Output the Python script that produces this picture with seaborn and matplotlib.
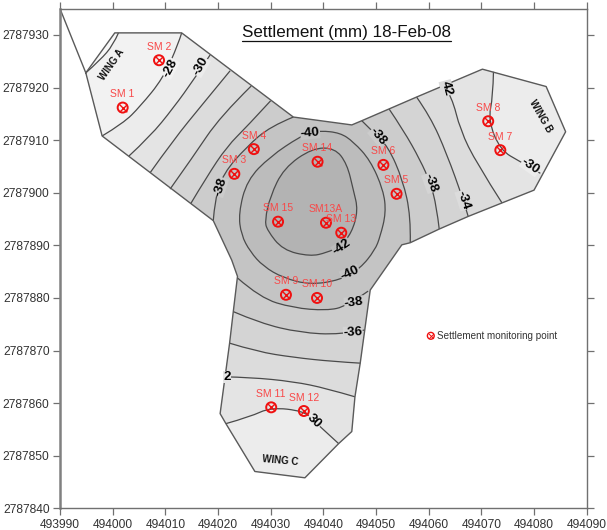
import matplotlib
matplotlib.use("Agg")
import matplotlib.pyplot as plt
import matplotlib.ticker as mticker
from matplotlib.lines import Line2D
from matplotlib.patches import PathPatch
from matplotlib.path import Path
import seaborn as sns

outline_x = [493994.9, 494000.4, 494013.1, 494034.3, 494045.4, 494047.3, 494057.7, 494070.2, 494082.3, 494086.0,
             494080.0, 494067.5, 494062.0, 494056.5, 494054.9, 494048.9, 494047.0, 494046.0, 494045.4, 494042.9,
             494036.5, 494027.0, 494021.5, 494020.4, 494022.2, 494022.9, 494023.7, 494022.6, 494019.1, 493998.0]
outline_y = [2787922.8, 2787930.4, 2787930.4, 2787914.4, 2787912.9, 2787913.7, 2787918.2, 2787923.5, 2787920.2, 2787911.6,
             2787900.5, 2787895.5, 2787893.1, 2787890.5, 2787890.1, 2787881.5, 2787867.6, 2787861.2, 2787854.6, 2787852.3,
             2787845.8, 2787847.0, 2787856.1, 2787858.0, 2787871.4, 2787877.4, 2787884.1, 2787887.2, 2787894.7, 2787910.8]
spike_x = [493990.0, 493994.9]
spike_y = [2787935.0, 2787922.8]

# wing A, lower left edge to upper right edge
a26_x = [493994.9, 493997.6, 494000.1, 494001.1]
a26_y = [2787922.8, 2787925.2, 2787928.1, 2787930.4]
a28_x = [493998.0, 494002.0, 494005.2, 494009.6, 494012.5, 494013.1]
a28_y = [2787910.8, 2787913.2, 2787916.4, 2787921.8, 2787928.4, 2787930.4]
a30_x = [494003.1, 494007.1, 494011.5, 494015.6, 494018.5]
a30_y = [2787907.0, 2787910.7, 2787916.1, 2787921.8, 2787926.2]
a32_x = [494007.1, 494011.5, 494017.2, 494022.3]
a32_y = [2787903.8, 2787910.0, 2787917.0, 2787923.2]
a34_x = [494010.9, 494015.3, 494020.4, 494026.3]
a34_y = [2787900.7, 2787906.9, 2787914.5, 2787920.3]
a36_x = [494014.8, 494017.9, 494021.7, 494025.5, 494030.0]
a36_y = [2787897.9, 2787903.1, 2787908.8, 2787912.6, 2787917.5]
a38_x = [494019.1, 494019.4, 494021.0, 494025.5, 494029.9, 494034.3]
a38_y = [2787894.7, 2787898.6, 2787903.7, 2787908.8, 2787912.6, 2787914.4]

# wing B, top edge to bottom edge
b30_x = [494072.3, 494072.2, 494071.3, 494073.6, 494077.4, 494081.2]
b30_y = [2787923.0, 2787918.3, 2787913.8, 2787908.1, 2787905.9, 2787903.7]
b32_x = [494062.9, 494064.4, 494066.0, 494069.1, 494073.9]
b32_y = [2787920.4, 2787918.3, 2787911.9, 2787905.6, 2787898.1]
b34_x = [494057.7, 494060.3, 494063.4, 494066.6, 494067.5]
b34_y = [2787918.2, 2787914.5, 2787907.5, 2787898.6, 2787895.5]
b36_x = [494052.5, 494055.2, 494058.4, 494060.3, 494061.5, 494062.0]
b36_y = [2787915.9, 2787911.9, 2787906.2, 2787901.9, 2787897.4, 2787893.1]
b38_x = [494047.3, 494049.4, 494052.3, 494055.1, 494056.6, 494056.5]
b38_y = [2787913.7, 2787911.6, 2787908.8, 2787902.4, 2787895.5, 2787890.5]

# wing C, left edge to right edge
c30_x = [494021.5, 494026.1, 494030.0, 494036.2, 494038.0, 494042.9]
c30_y = [2787856.1, 2787857.4, 2787859.2, 2787858.5, 2787856.8, 2787852.3]
c32_x = [494021.3, 494026.1, 494034.3, 494040.6, 494046.0]
c32_y = [2787865.0, 2787864.9, 2787864.1, 2787862.8, 2787861.2]
c34_x = [494022.2, 494027.4, 494034.3, 494041.9, 494047.0]
c34_y = [2787871.4, 2787869.8, 2787868.7, 2787867.9, 2787867.6]
c36_x = [494022.9, 494028.0, 494035.6, 494043.2, 494047.8]
c36_y = [2787877.4, 2787875.2, 2787873.4, 2787873.0, 2787873.9]
c38_x = [494023.7, 494028.0, 494034.3, 494040.6, 494044.4, 494048.5]
c38_y = [2787883.8, 2787880.0, 2787878.1, 2787877.6, 2787878.4, 2787881.3]

# closed contours round the centre
m40_x = [494037.5, 494039.4, 494043.2, 494045.7, 494048.9, 494051.4, 494051.9, 494050.8, 494049.8, 494047.0,
         494043.2, 494037.5, 494032.4, 494028.6, 494026.1, 494024.4, 494023.9, 494025.5, 494029.9, 494035.6]
m40_y = [2787911.4, 2787911.8, 2787911.4, 2787909.7, 2787906.2, 2787900.5, 2787896.2, 2787891.7, 2787889.1, 2787885.6,
         2787883.4, 2787882.5, 2787883.8, 2787886.0, 2787888.8, 2787892.0, 2787896.1, 2787902.4, 2787906.9, 2787910.7]
m42_x = [494037.9, 494042.2, 494044.5, 494045.7, 494046.6, 494045.4, 494043.2, 494040.6, 494037.5, 494032.3,
         494029.3, 494028.9, 494029.9, 494032.5]
m42_y = [2787908.5, 2787908.5, 2787905.5, 2787900.5, 2787896.7, 2787892.4, 2787889.8, 2787888.6, 2787887.9, 2787889.1,
         2787892.9, 2787894.8, 2787899.3, 2787904.7]

# points past the tip of each wing, used to close the band polygons
far_a_x = [494035.6, 493990.0, 493990.0]
far_a_y = [2787935.0, 2787935.0, 2787891.0]
far_b_x = [494090.6, 494090.6, 494047.2]
far_b_y = [2787879.6, 2787935.0, 2787935.0]
far_c_x = [494073.5, 493997.6]
far_c_y = [2787837.8, 2787837.8]

point_names = ["SM 1", "SM 2", "SM 3", "SM 4", "SM 5", "SM 6", "SM 7", "SM 8",
               "SM 9", "SM 10", "SM 11", "SM 12", "SM 13", "SM13A", "SM 14", "SM 15"]
point_x = [494001.9, 494008.8, 494023.1, 494026.8, 494053.9, 494051.4, 494073.6, 494071.3,
           494032.9, 494038.8, 494030.1, 494036.3, 494043.4, 494040.5, 494038.9, 494031.4]
point_y = [2787916.2, 2787925.2, 2787903.6, 2787908.3, 2787899.8, 2787905.3, 2787908.1, 2787913.6,
           2787880.6, 2787880.0, 2787859.2, 2787858.5, 2787892.4, 2787894.3, 2787905.9, 2787894.5]
legend_x = [494060.4]
legend_y = [2787872.8]

label_texts = ["-28", "-30", "-38", "-40", "-38", "-38", "-34", "42", "-30", "-42", "-40", "-38", "-36", "2", "30"]
label_x = [494010.9, 494016.7, 494020.4, 494037.5, 494050.4, 494060.3, 494066.6, 494063.4, 494079.3, 494043.5,
           494045.1, 494045.8, 494045.6, 494021.7, 494038.2]
label_y = [2787923.7, 2787924.0, 2787901.1, 2787911.4, 2787910.7, 2787901.9, 2787898.6, 2787919.9, 2787905.0, 2787889.7,
           2787884.7, 2787879.1, 2787873.4, 2787865.0, 2787856.5]
label_angle = [62, 60, 72, 5, -50, -70, -72, -75, -35, 35, 25, 8, 3, 0, -45]
label_band = ["-28", "-30", "-38", "base", "-38", "-36", "-34", "-34", "-30", "-40", "base", "-38", "-36", "-32", "-30"]

wing_names = ["WING A", "WING B", "WING C"]
wing_x = [493999.8, 494081.2, 494031.8]
wing_y = [2787924.3, 2787914.5, 2787849.0]
wing_angle = [55, -60, -5]

x_ticks = list(range(493990, 494100, 10))
y_ticks = list(range(2787840, 2787940, 10))

band_colours = {"-26": "#f8f8f8", "-28": "#f2f2f2", "-30": "#ececec", "-32": "#e4e4e4", "-34": "#dcdcdc",
                "-36": "#d4d4d4", "-38": "#cccccc", "base": "#c4c4c4", "-40": "#bcbcbc", "-42": "#b3b3b3"}
line_colour = "#4a4a4a"
red = "#f01010"


def smooth_path(xs, ys, extra_x=(), extra_y=(), closed=False):
    # read points act as quadratic control points, so the line rounds off without any new values
    pts = list(zip(xs, ys))
    mids = [((a[0] + b[0]) / 2, (a[1] + b[1]) / 2) for a, b in zip(pts, pts[1:] + pts[:1])]
    if closed:
        verts = [mids[-1]]
        codes = [Path.MOVETO]
        for pt, mid in zip(pts, mids):
            verts += [pt, mid]
            codes += [Path.CURVE3, Path.CURVE3]
    else:
        verts = [pts[0]]
        codes = [Path.MOVETO]
        for pt, mid in zip(pts[1:-1], mids[1:-1]):
            verts += [pt, mid]
            codes += [Path.CURVE3, Path.CURVE3]
        verts[-1] = pts[-1]
    for pt in zip(extra_x, extra_y):
        verts.append(pt)
        codes.append(Path.LINETO)
    if closed or len(extra_x):
        verts.append(verts[0])
        codes.append(Path.CLOSEPOLY)
    return Path(verts, codes)


def draw_line(ax, xs, ys, width=1.0, colour="#5a5a5a"):
    sns.lineplot(x=xs, y=ys, ax=ax, sort=False, estimator=None, color=colour, linewidth=width, legend=False)


def draw_marks(ax, xs, ys, size, inner, ring=1.4, cross=1.0):
    sns.scatterplot(x=xs, y=ys, ax=ax, marker="o", s=size, facecolor="none", edgecolor=red, linewidth=ring, zorder=5)
    sns.scatterplot(x=xs, y=ys, ax=ax, marker="x", s=inner, color=red, linewidth=cross, zorder=5)


def draw_wing(ax, clip, contours, far_x, far_y):
    # paint from the centre out, each band covers everything further along the wing
    for level, xs, ys in contours:
        band = PathPatch(smooth_path(xs, ys, far_x, far_y), facecolor=band_colours[level], edgecolor="none")
        ax.add_patch(band)
        band.set_clip_path(clip)
    for level, xs, ys in contours:
        ax.add_patch(PathPatch(smooth_path(xs, ys), fill=False, edgecolor=line_colour, linewidth=0.9))


def plot_chart():
    sns.set_theme(style="ticks")
    plt.rcParams["font.family"] = ["Liberation Sans", "DejaVu Sans"]

    fig = plt.figure(figsize=(6.07, 5.30), dpi=100)
    ax = fig.add_axes([60 / 607, 1 - 508.3 / 530, 526.7 / 607, 499.6 / 530])

    base = ax.fill(outline_x, outline_y, color=band_colours["base"], linewidth=0)[0]

    draw_wing(ax, base, [("-38", a38_x, a38_y), ("-36", a36_x, a36_y), ("-34", a34_x, a34_y), ("-32", a32_x, a32_y),
                         ("-30", a30_x, a30_y), ("-28", a28_x, a28_y), ("-26", a26_x, a26_y)], far_a_x, far_a_y)
    draw_wing(ax, base, [("-38", b38_x, b38_y), ("-36", b36_x, b36_y), ("-34", b34_x, b34_y), ("-32", b32_x, b32_y),
                         ("-30", b30_x, b30_y)], far_b_x, far_b_y)
    draw_wing(ax, base, [("-38", c38_x, c38_y), ("-36", c36_x, c36_y), ("-34", c34_x, c34_y), ("-32", c32_x, c32_y),
                         ("-30", c30_x, c30_y)], far_c_x, far_c_y)

    for level, xs, ys in [("-40", m40_x, m40_y), ("-42", m42_x, m42_y)]:
        ax.add_patch(PathPatch(smooth_path(xs, ys, closed=True), facecolor=band_colours[level],
                               edgecolor=line_colour, linewidth=0.9))

    draw_line(ax, outline_x + outline_x[:1], outline_y + outline_y[:1])
    draw_line(ax, spike_x, spike_y)

    for text, x, y, angle, band in zip(label_texts, label_x, label_y, label_angle, label_band):
        ax.text(x, y, text, rotation=angle, rotation_mode="anchor", ha="center", va="center", fontsize=9.5,
                fontweight="bold", color="black",
                bbox=dict(boxstyle="square,pad=0.02", facecolor=band_colours[band], edgecolor="none"), zorder=4)

    for text, x, y, angle in zip(wing_names, wing_x, wing_y, wing_angle):
        ax.text(x, y, text, rotation=angle, rotation_mode="anchor", ha="center", va="center", fontsize=7,
                fontweight="bold", color="#111111", zorder=4)

    draw_marks(ax, point_x, point_y, 52, 30)
    for text, x, y in zip(point_names, point_x, point_y):
        ax.annotate(text, (x, y), xytext=(0, 9.7), textcoords="offset points", ha="center", va="center",
                    fontsize=7.5, color="#f84848", zorder=6)

    draw_marks(ax, legend_x, legend_y, 24, 12, ring=1.0, cross=0.7)
    ax.annotate("Settlement monitoring point", (legend_x[0], legend_y[0]), xytext=(4.5, 0), textcoords="offset points",
                ha="left", va="center", fontsize=7.1, color="#333333")

    title = ax.text(494044.4, 2787930.4, "Settlement (mm) 18-Feb-08", ha="center", va="center", fontsize=12.25,
                    color="#111111")

    ax.set_xlim(493990, 494090)
    ax.set_ylim(2787840, 2787935)
    ax.set_xticks(x_ticks)
    ax.set_yticks(y_ticks)
    ax.xaxis.set_major_formatter(mticker.FormatStrFormatter("%d"))
    ax.yaxis.set_major_formatter(mticker.FormatStrFormatter("%d"))
    ax.tick_params(axis="both", which="major", direction="out", length=5, width=0.9, color="#707070",
                   labelsize=8.65, labelcolor="#333333", pad=2.5, top=True, right=True)
    for side in ["top", "right", "bottom"]:
        ax.spines[side].set_visible(True)
        ax.spines[side].set_color("#707070")
        ax.spines[side].set_linewidth(1.0)
    ax.spines["left"].set_visible(True)
    ax.spines["left"].set_color("#808080")
    ax.spines["left"].set_linewidth(1.8)
    ax.set_xlabel("")
    ax.set_ylabel("")

    # matplotlib text has no underline, so put a rule under the measured title
    fig.canvas.draw()
    box = title.get_window_extent().transformed(fig.transFigure.inverted())
    fig.add_artist(Line2D([box.x0, box.x1], [1 - 40.7 / 530, 1 - 40.7 / 530], color="#111111", linewidth=0.9))

    fig.savefig("out.png", dpi=100)


def main():
    plot_chart()


if __name__ == "__main__":
    main()
